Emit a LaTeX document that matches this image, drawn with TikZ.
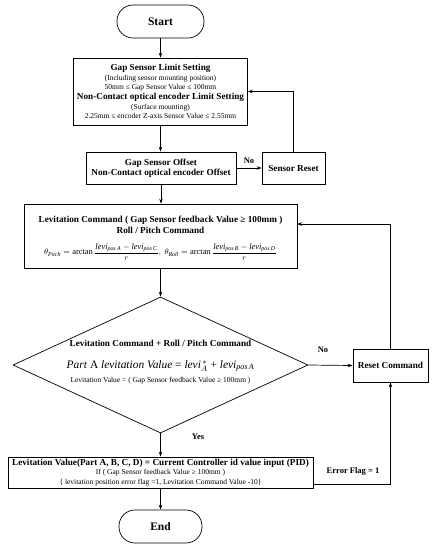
\documentclass[tikz,border=0pt]{standalone}
\usepackage{amsmath}
\usepackage{fontspec}
\setmainfont{Liberation Serif}
\usetikzlibrary{shapes.geometric,arrows.meta}
\newcommand\tbf{\fontsize{9.2}{10}\bfseries\selectfont}
\newcommand\tsm{\fontsize{7.5}{9.2}\selectfont}
\begin{document}
\begin{tikzpicture}[x=1pt,y=-1pt,line width=0.7pt,
  box/.style={draw,rectangle,inner sep=0pt,align=center,font=\tsm},
  term/.style={draw,rectangle,rounded corners=16pt,inner sep=0pt,font=\fontsize{11.5}{13}\bfseries\selectfont},
  arr/.style={-{Stealth[length=5pt,width=3.5pt]}},
  lbl/.style={font=\fontsize{8.5}{10}\bfseries\selectfont},
  txt/.style={inner sep=0pt,align=center}]
\useasboundingbox (0,0) rectangle (435,550);
\node[term,minimum width=87pt,minimum height=33pt] (start) at (160.5,21.5) {Start};
\node[box,minimum width=174pt,minimum height=67pt] (box1) at (160.5,91.5) {%
{\tbf Gap Sensor Limit Setting}\\
(Including sensor mounting position)\\
50mm ≤ Gap Sensor Value ≤ 100mm\\[1.5pt]
{\tbf Non-Contact optical encoder Limit Setting}\\
(Surface mounting)\\
2.25mm ≤ encoder Z-axis Sensor Value ≤ 2.55mm};
\node[box,minimum width=150pt,minimum height=32pt,font=\tbf] (box2) at (161,168) {Gap Sensor Offset\\Non-Contact optical encoder Offset};
\node[box,minimum width=63pt,minimum height=32pt,font=\tbf] (sreset) at (293.5,168) {Sensor Reset};
\node[draw,rectangle,minimum width=273pt,minimum height=64pt,inner sep=0pt] (box3) at (160.5,236) {};
\node[txt,font=\tbf] (b3t1) at (160.5,220) {Levitation Command ( Gap Sensor feedback Value ≥ 100mm )};
\node[txt,font=\tbf] (b3t2) at (160.5,230.5) {Roll / Pitch Command};
\node[txt,font=\fontsize{8.4}{10}\selectfont] (b3f) at (160.5,252) {$\theta_{\mathit{Pitch}}=\mathrm{arctan}\,\dfrac{\textit{levi}_{\mathit{pos\,A}}-\textit{levi}_{\mathit{pos\,C}}}{r},\ \theta_{\mathit{Roll}}=\mathrm{arctan}\,\dfrac{\textit{levi}_{\mathit{pos\,B}}-\textit{levi}_{\mathit{pos\,D}}}{r}$};
\node[draw,diamond,minimum width=295pt,minimum height=136pt,inner sep=0pt] (dec) at (160.5,365) {};
\node[txt,font=\tbf] (dt1) at (160.5,343) {Levitation Command + Roll / Pitch Command};
\node[txt,font=\fontsize{11.4}{13}\selectfont] (dt2) at (160.5,366) {\textit{Part} A \textit{levitation Value} = \textit{levi}$_{A}^{\,*}$ + \textit{levi}$_{\mathit{pos\,A}}$};
\node[txt,font=\tsm] (dt3) at (160.5,381) {Levitation Value = ( Gap Sensor feedback Value ≥ 100mm )};
\node[box,minimum width=75pt,minimum height=33pt,font=\tbf] (reset) at (390.5,365.5) {Reset Command};
\node[box,minimum width=305pt,minimum height=31pt] (box4) at (160.5,472.5) {%
{\tbf Levitation Value(Part A, B, C, D) = Current Controller id value input (PID)}\\
If ( Gap Sensor feedback Value ≥ 100mm )\\
\{ levitation position error flag =1, Levitation Command Value -10\}};
\node[term,minimum width=83pt,minimum height=33pt] (end) at (160.5,526.5) {End};
\coordinate (b3in) at (297,224);
\coordinate (b4out) at (313,484);
\draw[arr] (start.south) -- (start.south |- box1.north);
\draw[arr] (box1.south) -- (box1.south |- box2.north);
\draw[arr] (box2.east) -- (sreset.west) node[lbl,midway,above=1pt] (no1) {No};
\draw[arr] (sreset.north) |- (box1.east);
\draw[arr] (box2.south) -- (box2.south |- box3.north);
\draw[arr] (box3.south) -- (dec.north);
\draw[arr] (reset.north) |- (b3in);
\draw[arr] (dec.east) -- (reset.west);
\node[lbl] (no2) at (323,350) {No};
\draw[arr] (dec.south) -- (box4.north);
\node[lbl] (yes) at (198,437) {Yes};
\draw[arr] (b4out) -| (reset.south);
\node[lbl] (eflag) at (353,471) {Error Flag = 1};
\draw[arr] (box4.south) -- (end.north);
\end{tikzpicture}
\end{document}
